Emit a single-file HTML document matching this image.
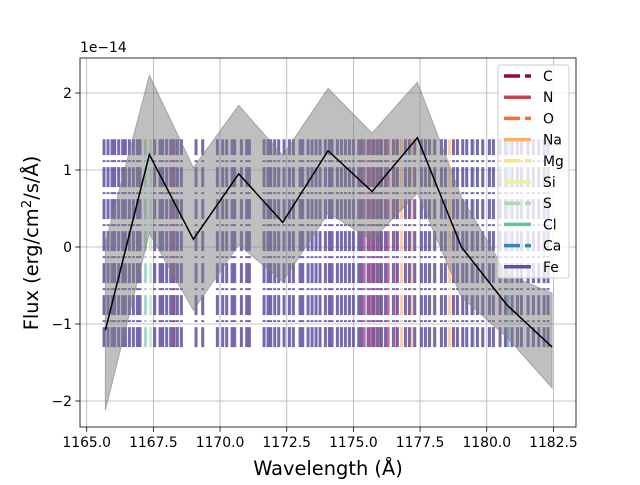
<!DOCTYPE html>
<html><head><meta charset="utf-8"><style>
body{margin:0;background:#fff}
svg text{font-family:"DejaVu Sans","Liberation Sans",sans-serif;fill:#000}
</style></head><body>
<svg id="c" width="640" height="480" xmlns="http://www.w3.org/2000/svg">
<rect width="640" height="480" fill="#fff"/>
<g id="grid"></g>
<g id="lines"></g>
<g id="band"></g>
<g id="frame"></g>
<g id="legend"></g>
</svg>
<script>
const wave=[1165.7,1167.35,1169.0,1170.7,1172.35,1174.05,1175.7,1177.4,1179.05,1180.75,1182.45];
const flux=[-1.08,1.2,0.1,0.95,0.32,1.25,0.72,1.42,0.0,-0.75,-1.3];
const upper=[0.05,2.23,1.03,1.84,1.19,2.06,1.48,2.14,0.65,-0.35,-0.6];
const lower=[-2.12,0.18,-0.82,0.03,-0.45,0.44,0.09,0.70,-0.65,-1.17,-1.83];
const feLines=[1165.65,1165.8,1165.95,1166.05,1166.2,1166.35,1166.45,1166.6,1166.75,1166.9,1167.0,1167.55,1167.75,1167.85,1168.0,1168.15,1168.25,1168.4,1168.55,1169.1,1169.35,1169.9,1170.1,1170.25,1170.45,1170.55,1170.8,1171.0,1171.1,1171.65,1171.8,1171.9,1172.05,1172.2,1172.4,1172.6,1172.75,1173.0,1173.1,1173.3,1173.45,1173.6,1173.75,1173.95,1174.1,1174.2,1174.4,1174.55,1174.7,1174.85,1175.0,1175.2,1175.3,1175.55,1175.75,1175.9,1176.05,1176.2,1176.5,1176.65,1176.95,1177.1,1177.3,1177.55,1177.7,1177.85,1178.05,1178.3,1178.45,1178.75,1178.9,1179.1,1179.25,1179.45,1179.65,1179.85,1180.1,1180.25,1180.5,1180.7,1180.95,1181.15,1181.3,1181.55,1181.75,1181.95,1182.15,1182.3];
const elemNames=["C","N","O","Na","Mg","Si","S","Cl","Ca","Fe"];
const elemColors=["#9e0142","#d53e4f","#f46d43","#fdae61","#fee08b","#e6f598","#abdda4","#66c2a5","#3288bd","#5e4fa2"];
const otherLines=[[1175.4,0],[1175.65,0],[1176.0,0],[1176.3,0],[1168.3,1],[1175.8,1],[1176.6,2],[1176.8,3],[1177.2,3],[1178.6,3],[1177.95,4],[1171.9,5],[1167.4,6],[1167.2,7],[1179.5,7],[1180.8,8]];
const xTicks=[1165.0,1167.5,1170.0,1172.5,1175.0,1177.5,1180.0,1182.5];
const yTicks=[-2,-1,0,1,2];
const L=80,R=576,T=58,B=427;
const X=v=>86.7+(v-1165)*26.67;
const Y=v=>247-v*77;
const NS="http://www.w3.org/2000/svg";
function mk(tag,attrs,parent){const e=document.createElementNS(NS,tag);for(const k in attrs)e.setAttribute(k,attrs[k]);parent.appendChild(e);return e;}
const grid=document.getElementById('grid'),lines=document.getElementById('lines'),band=document.getElementById('band'),frame=document.getElementById('frame'),leg=document.getElementById('legend');
xTicks.forEach(t=>{const x=X(t);
 const g=mk('line',{x1:x,x2:x,y1:T,y2:B,stroke:'#b0b0b0','stroke-width':0.8},grid);
 
 mk('line',{x1:x,x2:x,y1:B,y2:B+4.8,stroke:'#000','stroke-width':0.8},frame);
 const tx=mk('text',{x:x,y:B+20,'font-size':13.9,'text-anchor':'middle'},frame);tx.textContent=t.toFixed(1);
 });
yTicks.forEach(t=>{const y=Y(t);
 const g=mk('line',{x1:L,x2:R,y1:y,y2:y,stroke:'#b0b0b0','stroke-width':0.8},grid);
 
 mk('line',{x1:L-4.8,x2:L,y1:y,y2:y,stroke:'#000','stroke-width':0.8},frame);
 const tx=mk('text',{x:L-8,y:y+5,'font-size':13.9,'text-anchor':'end'},frame);tx.textContent=(t<0?'\u2212':'')+Math.abs(t);
 });
function vline(w,color){const x=X(w);
 const l=mk('line',{x1:x,x2:x,y1:Y(-1.3),y2:Y(1.4),stroke:color,'stroke-width':3,'stroke-opacity':0.85,'stroke-dasharray':'20 5 2 5'},lines);return l;}
otherLines.forEach(p=>{const l=vline(p[0],elemColors[p[1]]);l.setAttribute('stroke-opacity',0.6);
 
 });
feLines.forEach(w=>{const l=vline(w,elemColors[9]);
 
 });
let pts=wave.map((w,i)=>X(w)+','+Y(upper[i])).concat(wave.map((w,i)=>X(w)+','+Y(lower[i])).reverse());
const bp=mk('polygon',{points:pts.join(' '),fill:'#808080','fill-opacity':0.5,stroke:'#808080','stroke-opacity':0.6},band);

const fl=mk('polyline',{points:wave.map((w,i)=>X(w)+','+Y(flux[i])).join(' '),fill:'none',stroke:'#000','stroke-width':1.5},band);

const ax=mk('rect',{x:L,y:T,width:R-L,height:B-T,fill:'none',stroke:'#000','stroke-width':0.8},frame);

let t=mk('text',{x:L,y:T-6,'font-size':13.9},frame);t.textContent='1e\u221214';

t=mk('text',{x:328,y:475,'font-size':19.4,'text-anchor':'middle'},frame);t.textContent='Wavelength (\u00c5)';

t=mk('text',{x:0,y:0,'font-size':19.4,'text-anchor':'middle',transform:'translate(38,243) rotate(-90)'},frame);t.innerHTML='Flux (erg/cm<tspan dy="-7" font-size="13.5">2</tspan><tspan dy="7">/s/\u00c5)</tspan>';

const lb=mk('rect',{x:498,y:65,width:71,height:213,rx:2,fill:'#fff','fill-opacity':0.8,stroke:'#ccc'},leg);

elemNames.forEach((n,i)=>{const y=76+i*21.2;
 const dashed=[0,2,4,6,8].includes(i);
 const s=mk('line',{x1:504,x2:531,y1:y,y2:y,stroke:elemColors[i],'stroke-width':3.5},leg);
 if(dashed)s.setAttribute('stroke-dasharray','16 5 6 5');
 
 const tx=mk('text',{x:543,y:y+5,'font-size':13.9},leg);tx.textContent=n;
 });
</script>
</body></html>
